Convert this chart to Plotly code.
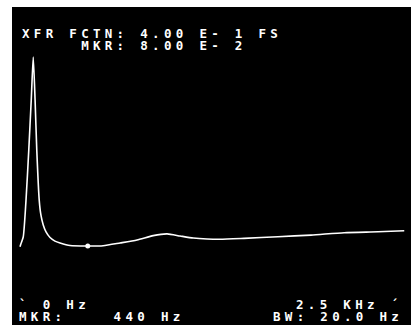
import plotly.graph_objects as go

# Transfer-function trace (frequency in Hz, magnitude)
freq_hz = [0, 6, 21, 39, 57, 73, 86, 98, 109, 125, 136, 151, 169, 195, 227, 260, 325,
           440, 540, 650, 760, 865, 955, 1040, 1125, 1215, 1300, 1455, 1675, 1890,
           2105, 2325, 2495]
xfr_mag = [0.0795, 0.0815, 0.0864, 0.118, 0.181, 0.277, 0.400, 0.277, 0.181, 0.118,
           0.104, 0.0957, 0.0902, 0.0860, 0.0834, 0.0821, 0.0803, 0.0800, 0.0802,
           0.0821, 0.0842, 0.0874, 0.0887, 0.0871, 0.0856, 0.0849, 0.0847, 0.0854,
           0.0866, 0.0878, 0.0896, 0.0903, 0.0911]
marker_hz = [440]
marker_mag = [0.080]

header_lines = ["XFR FCTN: 4.00 E- 1 FS", "     MKR: 8.00 E- 2"]
footer_left = ["` 0 Hz", "MKR:    440 Hz"]
footer_right = ["2.5 KHz ´", "BW: 20.0 Hz"]

W, H = 411, 327
L, T, R, B = 12, 7, 0, 2
PW, PH = W - L - R, H - T - B

fig = go.Figure()
fig.add_trace(go.Scatter(x=freq_hz, y=xfr_mag, mode="lines",
                         line=dict(color="white", width=1.6, shape="spline", smoothing=0.6),
                         hoverinfo="skip", showlegend=False))
fig.add_trace(go.Scatter(x=marker_hz, y=marker_mag, mode="markers",
                         marker=dict(color="white", size=5),
                         hoverinfo="skip", showlegend=False))

FONT = dict(family="DejaVu Sans Mono", size=12.5, color="white", weight="bold")
SP = 4.3

def px_x(p):
    return (p - L) / PW

def px_y(p):
    return (H - B - p) / PH

def add_text(txt, x, y):
    fig.add_annotation(text=f'<span style="letter-spacing:{SP}px">{txt}</span>',
                       x=px_x(x), y=px_y(y), xref="paper", yref="paper",
                       xanchor="left", yanchor="middle", showarrow=False,
                       font=FONT, borderpad=0)

add_text(header_lines[0], 21, 33.5)
add_text(header_lines[1], 21, 45.5)
add_text(footer_left[0], 18, 304)
add_text(footer_left[1], 18, 316.5)
add_text(footer_right[0], 295, 304)
add_text(footer_right[1], 272, 316.5)

fig.update_layout(
    width=W, height=H,
    margin=dict(l=L, r=R, t=T, b=B, pad=0),
    paper_bgcolor="white", plot_bgcolor="black",
    xaxis=dict(range=[-51.9, 2538.9], visible=False, showgrid=False, zeroline=False),
    yaxis=dict(type="log", range=[-1.389, -0.2131], visible=False, showgrid=False,
               zeroline=False),
)

fig.write_html("out.html", config={"displayModeBar": False},
               post_script="document.body.style.margin='0';document.body.style.padding='0';"
                           "document.documentElement.style.overflow='hidden';")
